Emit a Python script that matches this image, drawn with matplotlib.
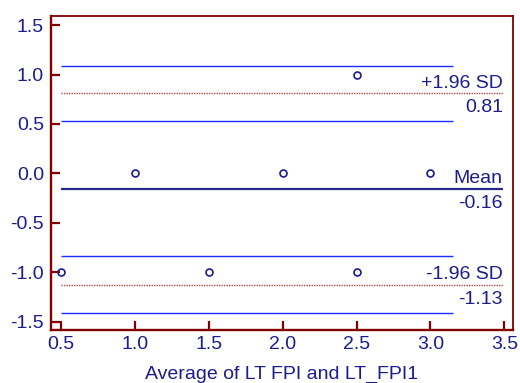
import matplotlib
matplotlib.use("Agg")
import matplotlib.pyplot as plt

# Data
avg_vals = [0.5, 1.0, 1.5, 2.0, 2.5, 2.5, 3.0]
diff_vals = [-1.0, 0.0, -1.0, 0.0, 1.0, -1.0, 0.0]
mean_diff = -0.16
upper_loa = 0.81
lower_loa = -1.13
upper_ci = [0.53, 1.09]
lower_ci = [-1.41, -0.84]
xticks = [0.5, 1.0, 1.5, 2.0, 2.5, 3.0, 3.5]
yticks = [-1.5, -1.0, -0.5, 0.0, 0.5, 1.0, 1.5]
xlabel = "Average of LT FPI and LT_FPI1"

plt.rcParams['font.family'] = ['Liberation Sans', 'DejaVu Sans']
navy = '#1c1c8c'
dred = '#800000'
blue = '#1a2cff'

W, H = 520, 383
fig = plt.figure(figsize=(W / 100, H / 100), dpi=100)
ax = fig.add_axes([51/W, 1-330/H, (513-51)/W, (330-15.7)/H])

line_start = 0.5
ci_end = 3.15
long_end = 3.49

for v in upper_ci + lower_ci:
    ax.plot([line_start, ci_end], [v, v], color=blue, lw=1.0, solid_capstyle='butt')
for v in [upper_loa, lower_loa]:
    ax.plot([line_start, long_end], [v, v], color='#c04848', lw=1.0, ls=(0, (1, 0.8)))
ax.plot([line_start, long_end], [mean_diff, mean_diff], color='#2a2a8a', lw=1.6, solid_capstyle='butt')

ax.plot(avg_vals, diff_vals, 'o', ms=5, mfc='none', mec=navy, mew=1.2)

fs = 14
def lbl(above, below, v):
    ax.annotate(above, xy=(long_end, v), xytext=(0, 4.1), textcoords='offset points',
                ha='right', va='baseline', color=navy, fontsize=fs)
    ax.annotate(below, xy=(long_end, v), xytext=(0, -4.0), textcoords='offset points',
                ha='right', va='top', color=navy, fontsize=fs)

lbl('+1.96 SD', f'{upper_loa:.2f}', upper_loa)
lbl('Mean', f'{mean_diff:.2f}', mean_diff)
lbl('-1.96 SD', f'{lower_loa:.2f}', lower_loa)

ax.set_xlim(0.432, 3.559)
ax.set_ylim(-1.585, 1.595)
ax.set_xticks(xticks)
ax.set_yticks(yticks)
ax.set_xticklabels([f'{t:.1f}' for t in xticks])
ax.set_yticklabels([f'{t:.1f}' for t in yticks])
ax.tick_params(direction='in', length=6.5, width=1.6, color=dred, labelcolor=navy,
               labelsize=fs)
ax.tick_params(axis='y', pad=5)
ax.tick_params(axis='x', pad=4.5)
for s in ['left', 'bottom']:
    ax.spines[s].set_linewidth(1.7)
for s in ['top', 'right']:
    ax.spines[s].set_linewidth(1.3)
for s in ax.spines.values():
    s.set_color(dred)

fig.text(282/W, (H - 378.5)/H, xlabel, color=navy, fontsize=fs, ha='center', va='baseline')

fig.savefig('out.png', dpi=100)
